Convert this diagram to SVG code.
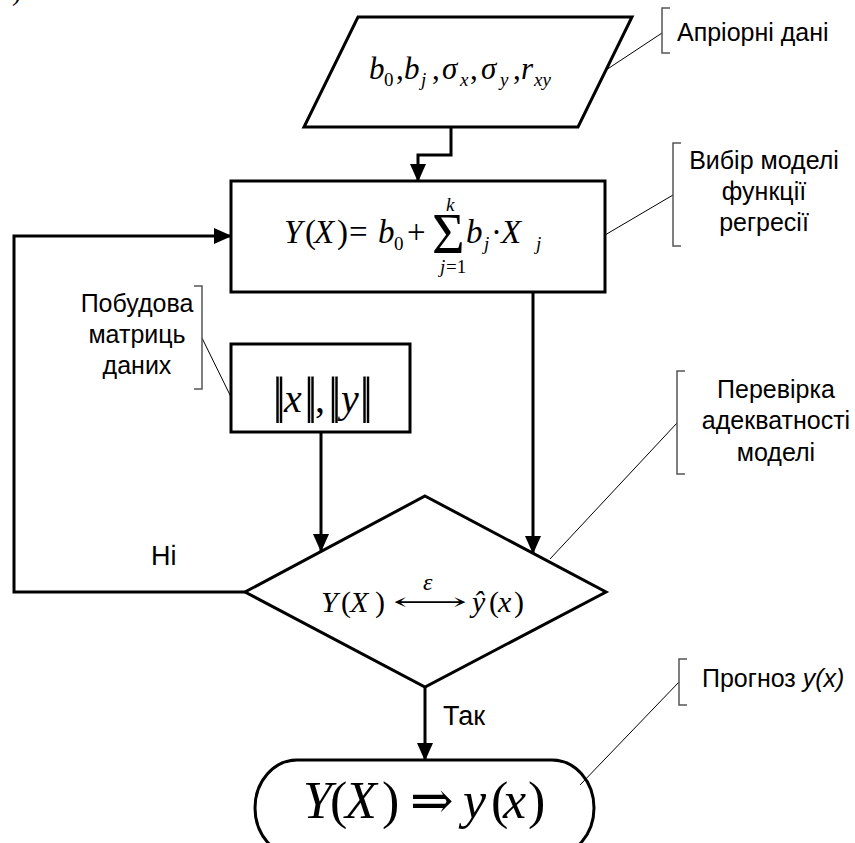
<svg xmlns="http://www.w3.org/2000/svg" width="855" height="843" viewBox="0 0 855 843">
<style>
.shape{fill:#fff;stroke:#000;stroke-width:3}
.conn{fill:none;stroke:#000;stroke-width:3}
.call{fill:none;stroke:#000;stroke-width:1}
.brk{fill:none;stroke:#555;stroke-width:1.5}
.lbl{font-family:"Liberation Sans",Arial,sans-serif;font-size:25px;fill:#000;text-anchor:middle}
.yn{font-family:"Liberation Sans",Arial,sans-serif;font-size:27px;fill:#000}
.note{font-family:"Liberation Sans",Arial,sans-serif;font-size:25px;fill:#000}
.m{font-family:"Liberation Serif","Times New Roman",serif;fill:#000}
.i{font-style:italic}
</style>
<defs>
<marker id="ah" viewBox="0 0 18 16" refX="17" refY="8" markerWidth="18" markerHeight="16" markerUnits="userSpaceOnUse" orient="auto">
<path d="M0,0 L18,8 L0,16 z" fill="#000"/>
</marker>
</defs>
<text class="m" x="12" y="0" font-size="28">)</text>

<g id="connectors">
<path class="conn" d="M451,127 V155 H418 V181" marker-end="url(#ah)"/>
<path class="conn" d="M245,592 H14 V236 H231" marker-end="url(#ah)"/>
<path class="conn" d="M533,292 V553" marker-end="url(#ah)"/>
<path class="conn" d="M321,432 V551" marker-end="url(#ah)"/>
<path class="conn" d="M425,687 V760" marker-end="url(#ah)"/>
<text class="yn" x="151" y="565">Ні</text>
<text class="yn" x="443" y="725">Так</text>
</g>

<g id="input">
<polygon class="shape" points="358,17 632,17 578,127 304,127"/>
<text class="m" font-size="31" y="79"><tspan class="i" x="369">b</tspan><tspan x="396">,</tspan><tspan class="i" x="404">b</tspan><tspan x="432">,</tspan><tspan class="i" x="442">σ</tspan><tspan x="470">,</tspan><tspan class="i" x="481">σ</tspan><tspan x="513">,</tspan><tspan class="i" x="521">r</tspan></text>
<text class="m" font-size="19" y="86"><tspan x="384">0</tspan><tspan class="i" x="421">j</tspan><tspan class="i" x="460">x</tspan><tspan class="i" x="500">y</tspan><tspan class="i" x="534">xy</tspan></text>
</g>

<g id="model">
<rect class="shape" x="231" y="181" width="374" height="111"/>
<text class="m" font-size="33" y="243"><tspan class="i" x="284">Y</tspan><tspan x="305">(</tspan><tspan class="i" x="314">X</tspan><tspan x="337">)</tspan><tspan x="349">=</tspan><tspan class="i" x="378">b</tspan><tspan x="407">+</tspan><tspan class="i" x="466">b</tspan><tspan x="491">·</tspan><tspan class="i" x="501">X</tspan></text>
<text class="m" font-size="56" x="432" y="253">Σ</text>
<text class="m" font-size="19" y="250"><tspan x="394">0</tspan><tspan class="i" x="484">j</tspan><tspan class="i" x="536">j</tspan></text>
<text class="m i" font-size="19" x="446" y="211">k</text>
<text class="m" font-size="19" y="273"><tspan class="i" x="440">j</tspan><tspan x="446">=1</tspan></text>
</g>

<g id="matrix">
<rect class="shape" x="231" y="344" width="179" height="88"/>
<text class="m" y="412"><tspan font-size="50" x="272.5 276.0 304.0 307.5 328.0 331.5 359.5 363.0">||||||||</tspan><tspan class="i" font-size="40" x="284">x</tspan><tspan font-size="40" x="315">,</tspan><tspan class="i" font-size="40" x="341">y</tspan></text>
</g>

<g id="check">
<polygon class="shape" points="425,496 606,592 425,687 245,592"/>
<text class="m" font-size="30" y="612"><tspan class="i" x="321">Y</tspan><tspan x="341">(</tspan><tspan class="i" x="350">X</tspan><tspan x="375">)</tspan><tspan class="i" x="472">ŷ</tspan><tspan x="489">(</tspan><tspan class="i" x="498">x</tspan><tspan x="514">)</tspan></text>
<text font-family="'DejaVu Serif','DejaVu Sans',serif" font-size="24" x="393" y="610" textLength="74" lengthAdjust="spacingAndGlyphs">⟷</text>
<text class="m i" font-size="24" x="423" y="590">ε</text>
</g>

<g id="result">
<rect class="shape" x="255" y="760" width="339" height="96" rx="42" ry="48"/>
<text class="m" font-size="52" y="818"><tspan class="i" x="303">Y</tspan><tspan x="330">(</tspan><tspan class="i" x="345">X</tspan><tspan x="382">)</tspan><tspan x="410" font-family="'Liberation Serif','DejaVu Serif',serif">⇒</tspan><tspan class="i" x="463">y</tspan><tspan x="491">(</tspan><tspan class="i" x="503">x</tspan><tspan x="528">)</tspan></text>
</g>

<g id="note-apriori">
<path class="call" d="M662,33 L606,70"/>
<path class="brk" d="M670,8 H662 V53 H670"/>
<text class="note" x="677" y="41">Апріорні дані</text>
</g>

<g id="note-model">
<path class="call" d="M673,195 L605,235"/>
<path class="brk" d="M681,143 H673 V246 H681"/>
<text class="lbl" x="764" y="169">Вибір моделі</text>
<text class="lbl" x="764" y="200">функції</text>
<text class="lbl" x="764" y="231">регресії</text>
</g>

<g id="note-matrix">
<path class="call" d="M202,338 L231,397"/>
<path class="brk" d="M194,286 H202 V389 H194"/>
<text class="lbl" x="137" y="312">Побудова</text>
<text class="lbl" x="137" y="343">матриць</text>
<text class="lbl" x="137" y="374">даних</text>
</g>

<g id="note-check">
<path class="call" d="M677,423 L550,559"/>
<path class="brk" d="M685,371 H677 V474 H685"/>
<text class="lbl" x="776" y="398">Перевірка</text>
<text class="lbl" x="776" y="429">адекватності</text>
<text class="lbl" x="776" y="461">моделі</text>
</g>

<g id="note-forecast">
<path class="call" d="M679,682 L580,785"/>
<path class="brk" d="M687,659 H679 V705 H687"/>
<text class="note" x="702" y="687">Прогноз <tspan font-style="italic">y(x)</tspan></text>
</g>
</svg>
